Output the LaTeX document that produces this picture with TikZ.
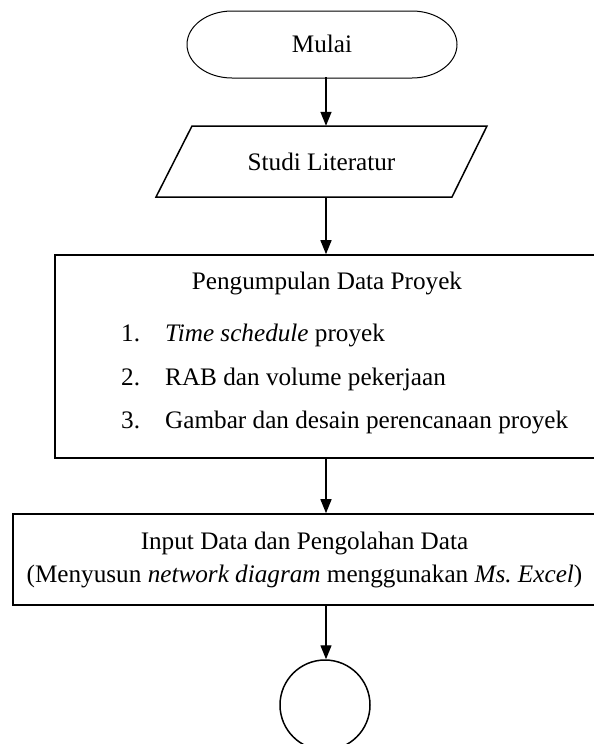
\documentclass[tikz,border=0pt]{standalone}
\usepackage{fontspec}
\setmainfont{Liberation Serif}
\usetikzlibrary{arrows.meta}
\frenchspacing
\begin{document}
\begin{tikzpicture}[x=1pt,y=-1pt,
  txt/.style={inner sep=0pt, font=\fontsize{25.2}{33}\selectfont},
  arr/.style={line width=1.4pt, -{Triangle[width=11pt,length=14pt]}},
  boxline/.style={draw, line width=1.6pt}]
\useasboundingbox (0,0) rectangle (594,744);
\clip (0,0) rectangle (594,744);
% terminator
\node[txt, minimum width=270pt, minimum height=67pt] (mulai) at (322,43.5) {Mulai};
\draw[line width=1pt] (232,11) -- (412,11)
  arc[start angle=-90,end angle=90,x radius=45,y radius=33.5] -- (232,78)
  arc[start angle=90,end angle=270,x radius=45,y radius=33.5] -- cycle;
% parallelogram
\node[txt, minimum width=260pt, minimum height=71pt] (studi) at (321.5,161.5) {Studi Literatur};
\draw[line width=1.5pt, line join=miter] (192,126) -- (487,126) -- (452,197) -- (156,197) -- cycle;
% data box
\node[boxline, inner sep=0pt, minimum width=544pt, minimum height=203pt] (data) at (327,356.5) {};
\node[txt] (t0) at (327,283) {Pengumpulan Data Proyek};
\node[txt, anchor=base west] (n1) at (121,341) {1.};
\node[txt, anchor=base west] (i1) at (165,341) {\textit{Time schedule} proyek};
\node[txt, anchor=base west] (n2) at (121,385) {2.};
\node[txt, anchor=base west] (i2) at (165,385) {RAB dan volume pekerjaan};
\node[txt, anchor=base west] (n3) at (121,428) {3.};
\node[txt, anchor=base west] (i3) at (165,428) {Gambar dan desain perencanaan proyek};
% input box
\node[boxline, txt, align=center, minimum width=583pt, minimum height=91pt] (input) at (304.5,559.5)
  {Input Data dan Pengolahan Data\\(Menyusun \textit{network diagram} menggunakan \textit{Ms. Excel})};
% connector circle
\node[draw, circle, line width=1.5pt, minimum size=90pt, inner sep=0pt] (endc) at (325,705) {};
% arrows
\coordinate (ax) at (326,0);
\draw[arr] (mulai.south -| ax) -- (studi.north -| ax);
\draw[arr] (studi.south -| ax) -- (data.north -| ax);
\draw[arr] (data.south -| ax) -- (input.north -| ax);
\draw[arr] (input.south -| ax) -- (endc.north -| ax);
\end{tikzpicture}
\end{document}
